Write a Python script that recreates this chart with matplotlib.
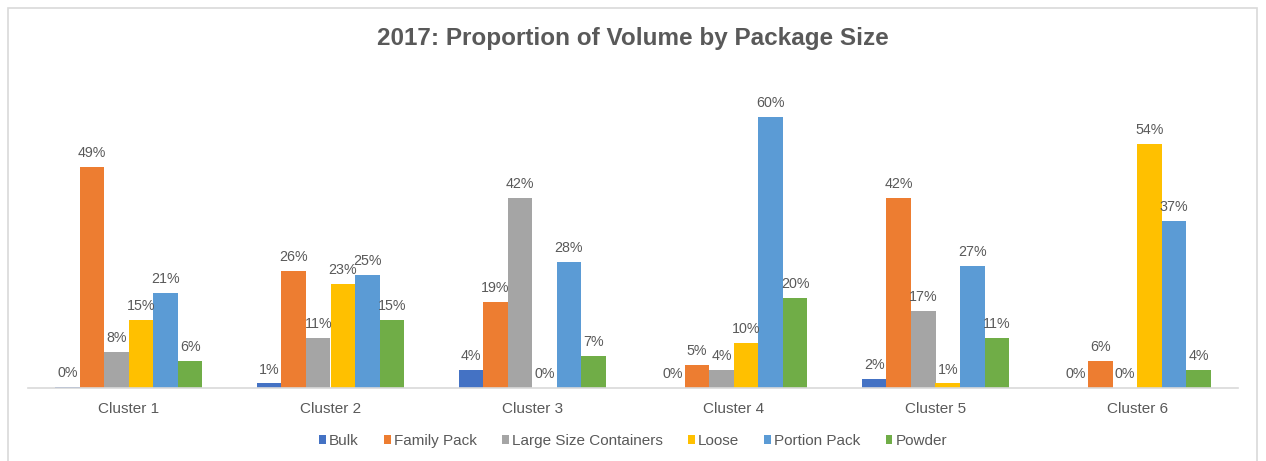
import numpy as np
import matplotlib.pyplot as plt
from matplotlib.patches import Rectangle, Patch

plt.rcParams['font.family'] = ['Liberation Sans', 'DejaVu Sans']

# volume share (%) per package size, one value per cluster
clusters = ['Cluster 1', 'Cluster 2', 'Cluster 3', 'Cluster 4', 'Cluster 5', 'Cluster 6']
bulk = [0.3, 1, 4, 0, 2, 0]
family_pack = [49, 26, 19, 5, 42, 6]
large_containers = [8, 11, 42, 4, 17, 0]
loose = [15, 23, 0, 10, 1, 54]
portion_pack = [21, 25, 28, 60, 27, 37]
powder = [6, 15, 7, 20, 11, 4]

series = ['Bulk', 'Family Pack', 'Large Size Containers', 'Loose', 'Portion Pack', 'Powder']
colors = ['#4472C4', '#ED7D31', '#A5A5A5', '#FFC000', '#5B9BD5', '#70AD47']
values = [bulk, family_pack, large_containers, loose, portion_pack, powder]

W, H = 1266, 461
fig = plt.figure(figsize=(W / 100, H / 100), dpi=100)
fig.patch.set_facecolor('white')

# chart frame
fig.patches.append(Rectangle((8 / W, -0.05), 1249 / W, 1.05 - 8 / H,
                             transform=fig.transFigure, fill=False,
                             edgecolor='#D9D9D9', linewidth=1.2))

ax = fig.add_axes([28 / W, 73 / H, 1210 / W, 316 / H])
x = np.arange(len(clusters))
bw = 0.1215
text_col = '#595959'

for i, (name, vals, c) in enumerate(zip(series, values, colors)):
    pos = x + (i - 2.5) * bw
    ax.bar(pos, vals, width=bw, color=c, linewidth=0)
    for px, v in zip(pos, vals):
        ax.annotate(f'{v:.0f}%', (px, v), xytext=(0, 5), textcoords='offset points',
                    ha='center', va='bottom', fontsize=10.3, color=text_col)

ax.set_xlim(-0.5, len(clusters) - 0.5)
ax.set_ylim(0, 70)
ax.set_xticks(x)
ax.set_xticklabels(clusters, fontsize=11, color=text_col)
ax.tick_params(axis='x', length=0, pad=10)
ax.set_yticks([])
for s in ['top', 'right', 'left']:
    ax.spines[s].set_visible(False)
ax.spines['bottom'].set_color('#D9D9D9')
ax.spines['bottom'].set_linewidth(1.2)

fig.text(0.5, 1 - 38 / H, '2017: Proportion of Volume by Package Size',
         ha='center', va='center', fontsize=17.5, fontweight='bold', color=text_col)

handles = [Patch(facecolor=c, edgecolor='none', label=n) for n, c in zip(series, colors)]
fig.legend(handles=handles, loc='center', bbox_to_anchor=(0.5, 1 - 441 / H),
           ncol=6, frameon=False, fontsize=11, handlelength=0.45, handleheight=0.45,
           handletextpad=0.2, columnspacing=1.65, labelcolor=text_col)

fig.savefig('out.png', dpi=100)
